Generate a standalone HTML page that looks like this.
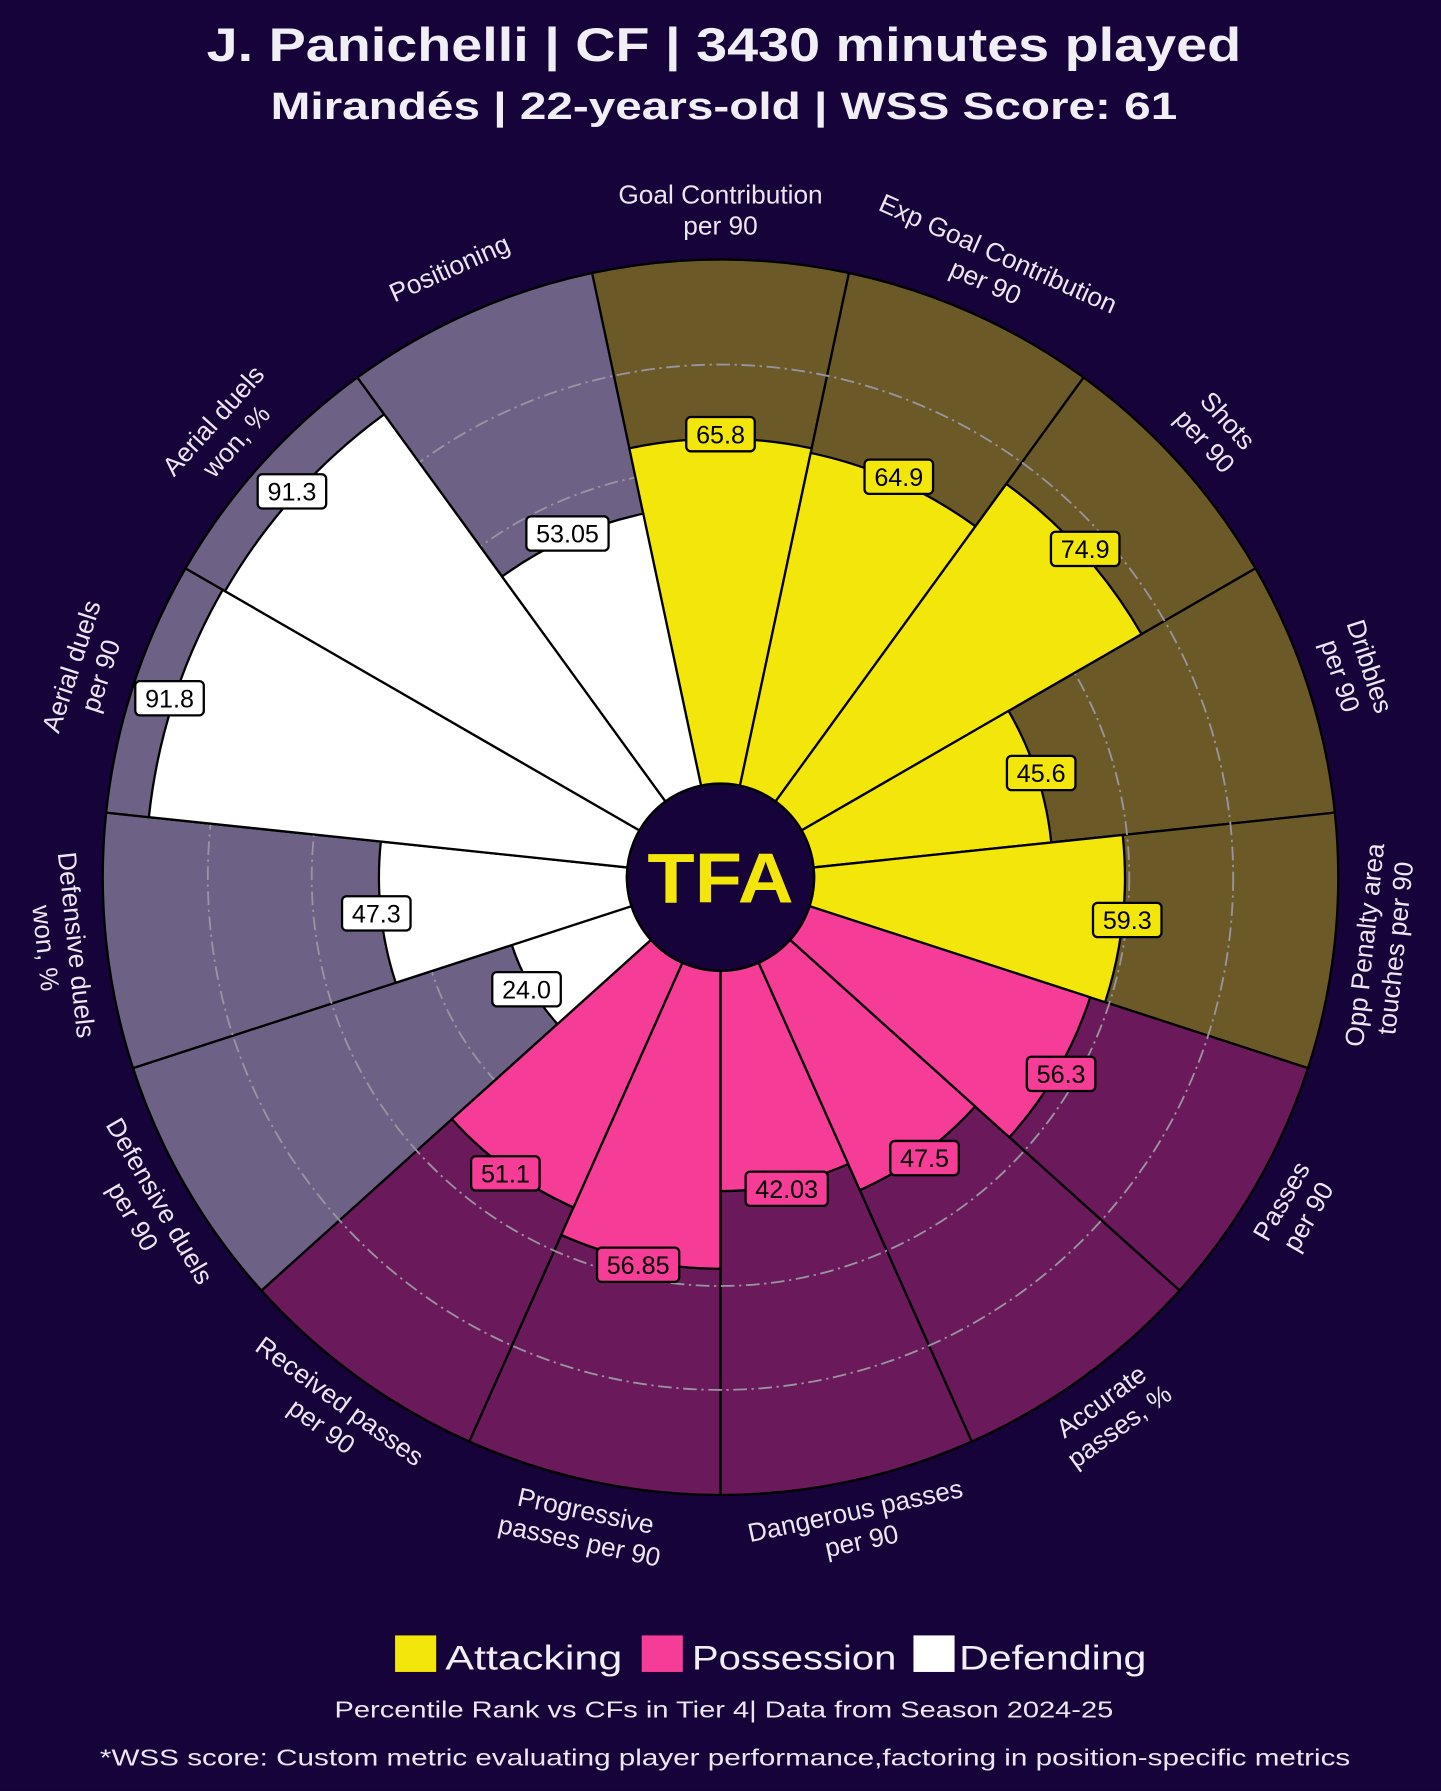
<!DOCTYPE html>
<html><head><meta charset="utf-8">
<style>
html,body{margin:0;padding:0;background:#160339;}
svg{display:block;}
text{font-family:"Liberation Sans",sans-serif;}
</style></head>
<body>
<svg id="s" width="1441" height="1791" viewBox="0 0 1262 1568" xmlns="http://www.w3.org/2000/svg">
<rect width="1262" height="1568" fill="#160339"/>
<text x="634" y="53" text-anchor="middle" fill="#f2eef5" font-size="41" font-weight="bold" textLength="906" lengthAdjust="spacingAndGlyphs">J. Panichelli | CF | 3430 minutes played</text>
<text x="634" y="104" text-anchor="middle" fill="#f2eef5" font-size="33" font-weight="bold" textLength="794" lengthAdjust="spacingAndGlyphs">Mirandés | 22-years-old | WSS Score: 61</text>
<g id="bg"></g>
<g id="grid" fill="none" stroke="#9a94a0" stroke-width="1.6" stroke-dasharray="12,4,2,4">
<circle cx="631" cy="768" r="174"/><circle cx="631" cy="768" r="266"/><circle cx="631" cy="768" r="358"/><circle cx="631" cy="768" r="449"/>
</g>
<g id="fg"></g>
<circle cx="631" cy="768" r="82" fill="#160339" stroke="#000" stroke-width="2"/>
<text x="631" y="790" text-anchor="middle" fill="#f2e60a" font-size="62" font-weight="bold" textLength="128" lengthAdjust="spacingAndGlyphs">TFA</text>

<g transform="translate(631,768)" font-size="22" fill="#000" text-anchor="middle">
<g id="vals"></g>
</g>

<g transform="translate(631,768)" font-size="23" fill="#ece6f0" text-anchor="middle" dominant-baseline="middle">
<g transform="rotate(0)"><text y="-596">Goal Contribution</text><text y="-569">per 90</text></g>
<g transform="rotate(24)"><text y="-596">Exp Goal Contribution</text><text y="-569">per 90</text></g>
<g transform="rotate(48)"><text y="-596">Shots</text><text y="-569">per 90</text></g>
<g transform="rotate(72)"><text y="-596">Dribbles</text><text y="-569">per 90</text></g>
<g transform="rotate(-84)"><text y="569">Opp Penalty area</text><text y="596">touches per 90</text></g>
<g transform="rotate(-60)"><text y="569">Passes</text><text y="596">per 90</text></g>
<g transform="rotate(-36)"><text y="569">Accurate</text><text y="596">passes, %</text></g>
<g transform="rotate(-12)"><text y="569">Dangerous passes</text><text y="596">per 90</text></g>
<g transform="rotate(12)"><text y="569">Progressive</text><text y="596">passes per 90</text></g>
<g transform="rotate(36)"><text y="569">Received passes</text><text y="596">per 90</text></g>
<g transform="rotate(60)"><text y="569">Defensive duels</text><text y="596">per 90</text></g>
<g transform="rotate(84)"><text y="569">Defensive duels</text><text y="596">won, %</text></g>
<g transform="rotate(-72)"><text y="-596">Aerial duels</text><text y="-569">per 90</text></g>
<g transform="rotate(-48)"><text y="-596">Aerial duels</text><text y="-569">won, %</text></g>
<g transform="rotate(-24)"><text y="-582">Positioning</text></g>
</g>

<rect x="346" y="1432" width="36" height="32" fill="#f2e60a"/>
<text x="390" y="1462" font-size="30" fill="#f2eef5" textLength="155" lengthAdjust="spacingAndGlyphs">Attacking</text>
<rect x="562" y="1432" width="36" height="32" fill="#f53c96"/>
<text x="606" y="1462" font-size="30" fill="#f2eef5" textLength="179" lengthAdjust="spacingAndGlyphs">Possession</text>
<rect x="800" y="1432" width="36" height="32" fill="#ffffff"/>
<text x="840" y="1462" font-size="30" fill="#f2eef5" textLength="164" lengthAdjust="spacingAndGlyphs">Defending</text>
<text x="634" y="1504" text-anchor="middle" font-size="20" fill="#ece6f0" textLength="682" lengthAdjust="spacingAndGlyphs">Percentile Rank vs CFs in Tier 4| Data from Season 2024-25</text>
<text x="635" y="1546" text-anchor="middle" font-size="20" fill="#ece6f0" textLength="1095" lengthAdjust="spacingAndGlyphs">*WSS score: Custom metric evaluating player performance,factoring in position-specific metrics</text>
</svg>
<script>
(function(){
var cx=631,cy=768,r0=82,R=541;
var v=[65.8,64.9,74.9,45.6,59.3,56.3,47.5,42.03,56.85,51.1,24.0,47.3,91.8,91.3,53.05];
var lab=["65.8","64.9","74.9","45.6","59.3","56.3","47.5","42.03","56.85","51.1","24.0","47.3","91.8","91.3","53.05"];
function cat(i){return i<5?0:(i<10?1:2);}
var bgc=["#6b5a28","#6a1a5a","#6e6186"],fgc=["#f2e60a","#f53c96","#ffffff"];
function pt(a,r){var t=a*Math.PI/180;return [cx+r*Math.sin(t),cy-r*Math.cos(t)];}
function wedge(a1,a2,r){var p1=pt(a1,r0),p2=pt(a1,r),p3=pt(a2,r),p4=pt(a2,r0);
return "M"+p1+"L"+p2+"A"+r+","+r+" 0 0 1 "+p3+"L"+p4+"A"+r0+","+r0+" 0 0 0 "+p1+"Z";}
var NS="http://www.w3.org/2000/svg",bg=document.getElementById("bg"),fg=document.getElementById("fg"),vals=document.getElementById("vals");
for(var i=0;i<15;i++){var a=i*24,a1=a-12,a2=a+12,c=cat(i);
var p=document.createElementNS(NS,"path");p.setAttribute("d",wedge(a1,a2,R));p.setAttribute("fill",bgc[c]);p.setAttribute("stroke","#000");p.setAttribute("stroke-width","2");bg.appendChild(p);
var q=document.createElementNS(NS,"path");q.setAttribute("d",wedge(a1,a2,r0+4.59*v[i]));q.setAttribute("fill",fgc[c]);q.setAttribute("stroke","#000");q.setAttribute("stroke-width","2");fg.appendChild(q);
var rr=r0+4.59*v[i]+4,t=a*Math.PI/180,x=rr*Math.sin(t),y=-rr*Math.cos(t);
var w=lab[i].length*12+12;
var b=document.createElementNS(NS,"rect");b.setAttribute("x",x-w/2);b.setAttribute("y",y-15);b.setAttribute("width",w);b.setAttribute("height",30);b.setAttribute("rx",4);b.setAttribute("fill",fgc[c]);b.setAttribute("stroke","#000");b.setAttribute("stroke-width","2");vals.appendChild(b);
var tx=document.createElementNS(NS,"text");tx.setAttribute("x",x);tx.setAttribute("y",y+8);tx.textContent=lab[i];vals.appendChild(tx);}
})();
</script>
</body></html>
